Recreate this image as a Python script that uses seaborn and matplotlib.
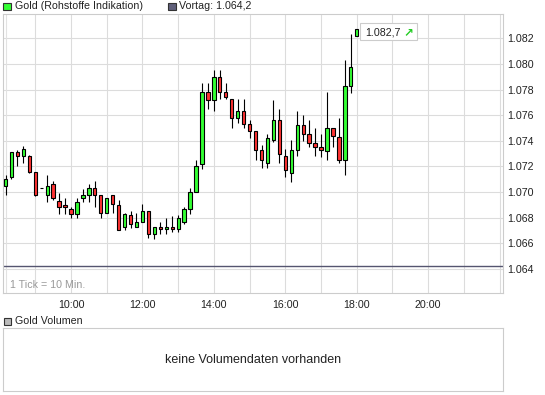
import numpy as np
import pandas as pd
import matplotlib
matplotlib.use("Agg")
import matplotlib.pyplot as plt
from matplotlib.patches import Rectangle
from matplotlib.lines import Line2D
import seaborn as sns

# ---------------- data ----------------
times = pd.date_range("2010-01-01 08:10", "2010-01-01 18:00", freq="10min")
opens = [1070.5, 1071.2, 1073.1, 1072.8, 1072.8, 1071.6, 1070.3, 1069.8, 1070.6, 1069.3,
         1069.0, 1068.7, 1068.3, 1069.5, 1069.8, 1070.3, 1069.8, 1068.4, 1069.8, 1069.0,
         1067.3, 1068.2, 1067.3, 1067.7, 1068.5, 1066.7, 1067.3, 1067.1, 1067.3, 1067.1,
         1067.7, 1068.7, 1070.0, 1072.2, 1077.8, 1077.2, 1079.0, 1077.8, 1077.3, 1075.8,
         1076.3, 1075.3, 1074.8, 1073.3, 1072.3, 1074.1, 1075.6, 1072.8, 1071.5, 1073.3,
         1075.2, 1074.5, 1073.8, 1073.5, 1073.2, 1075.0, 1074.3, 1072.5, 1078.3, 1082.2]
highs = [1071.3, 1073.1, 1073.3, 1073.6, 1072.9, 1071.6, 1070.3, 1071.3, 1070.9, 1069.9,
         1069.5, 1068.8, 1069.5, 1070.2, 1070.6, 1070.9, 1069.8, 1069.5, 1069.8, 1069.4,
         1068.4, 1068.5, 1068.4, 1069.1, 1068.5, 1067.3, 1067.7, 1068.0, 1068.1, 1068.2,
         1068.8, 1070.3, 1072.5, 1078.5, 1078.5, 1079.5, 1079.5, 1078.5, 1077.3, 1077.3,
         1077.3, 1075.6, 1074.8, 1073.7, 1074.5, 1077.2, 1076.5, 1073.4, 1074.1, 1076.3,
         1076.0, 1075.6, 1075.0, 1074.5, 1077.8, 1075.0, 1075.8, 1080.3, 1082.3, 1082.7]
lows = [1069.8, 1071.0, 1072.0, 1072.3, 1071.5, 1069.7, 1070.3, 1069.2, 1069.4, 1068.3,
        1068.3, 1068.0, 1068.0, 1069.2, 1069.2, 1068.8, 1068.0, 1068.4, 1068.4, 1067.0,
        1067.0, 1067.2, 1067.3, 1067.7, 1066.4, 1066.3, 1066.7, 1066.7, 1066.9, 1066.9,
        1067.5, 1068.3, 1070.0, 1071.8, 1076.5, 1076.3, 1077.3, 1077.3, 1075.0, 1075.4,
        1075.0, 1074.2, 1072.5, 1071.9, 1071.9, 1073.9, 1072.3, 1071.2, 1070.8, 1072.8,
        1074.0, 1073.5, 1072.8, 1072.7, 1072.5, 1073.5, 1072.3, 1071.3, 1077.7, 1082.2]
closes = [1071.0, 1073.1, 1072.8, 1073.4, 1071.6, 1069.8, 1070.3, 1070.5, 1069.5, 1068.8,
          1068.8, 1068.3, 1069.2, 1069.8, 1070.3, 1069.8, 1068.4, 1069.5, 1069.1, 1067.0,
          1068.3, 1067.5, 1067.7, 1068.5, 1066.7, 1067.3, 1067.1, 1067.3, 1067.1, 1068.0,
          1068.7, 1070.0, 1072.0, 1077.8, 1077.2, 1079.0, 1077.8, 1077.4, 1075.8, 1076.3,
          1075.3, 1074.8, 1073.3, 1072.5, 1074.2, 1075.6, 1073.0, 1071.7, 1073.3, 1075.2,
          1074.5, 1073.8, 1073.5, 1073.3, 1075.0, 1074.4, 1072.5, 1078.3, 1079.8, 1082.7]
prev_close = 1064.2
last_price = 1082.7
hour_grid = list(range(9, 23))
hour_labels = [10, 12, 14, 16, 18, 20]
y_ticks = [1064, 1066, 1068, 1070, 1072, 1074, 1076, 1078, 1080, 1082]

df = pd.DataFrame({"time": times, "open": opens, "high": highs,
                   "low": lows, "close": closes})
df["hour"] = df["time"].dt.hour + df["time"].dt.minute / 60.0


def de_num(v, dec):
    s = f"{v:,.{dec}f}"
    return s.replace(",", "X").replace(".", ",").replace("X", ".")


# ---------------- style ----------------
sns.set_theme(style="white")
plt.rcParams["font.family"] = ["Liberation Sans", "DejaVu Sans"]
plt.rcParams["font.size"] = 7.7

W, H = 545, 395
fig = plt.figure(figsize=(W / 100, H / 100), dpi=100)
fig.patch.set_facecolor("white")


def fx(x):
    return x / W


def fy(y):
    return 1 - y / H


GREEN = "#33ff33"
RED = "#ff3333"
GRID = "#dcdcdc"
FRAME = "#cccccc"
TXT = "#222222"

# ---------------- main price axes ----------------
ax = fig.add_axes([fx(3), fy(293), fx(503) - fx(3), fy(14) - fy(293)])
ax.set_facecolor("white")
ax.set_xlim(8.0963, 22.094)
ax.set_ylim(1062.12, 1083.90)

ax.set_xticks(hour_grid)
ax.set_xticklabels([f"{h}:00" if h in hour_labels else "" for h in hour_grid],
                   color=TXT, fontsize=7.7)
ax.set_yticks(y_ticks)
ax.set_yticklabels([de_num(v, 0) for v in y_ticks], color=TXT, fontsize=7.7)
ax.yaxis.tick_right()
ax.tick_params(axis="both", length=0)
ax.tick_params(axis="x", pad=5)
ax.tick_params(axis="y", pad=3)
ax.grid(True, color=GRID, lw=0.8)
ax.set_axisbelow(True)
for s in ax.spines.values():
    s.set_color(FRAME)
    s.set_linewidth(0.8)

# inner line at left edge (double frame look), behind the candles
ax.add_line(Line2D([2.5 / 500, 2.5 / 500], [0, 1], transform=ax.transAxes,
                   color="#e2e2e2", lw=0.8, zorder=1))

# previous close line
ax.axhline(prev_close, color="#555570", lw=1.0, zorder=2)

# candles
body_w = 3.3 / 35.72
ax.vlines(df["hour"], df["low"], df["high"], color="black", lw=0.8, zorder=3)
bottoms = np.minimum(df["open"], df["close"])
heights = np.abs(df["close"] - df["open"])
colors = [GREEN if c >= o else RED for o, c in zip(df["open"], df["close"])]
ax.bar(df["hour"], heights, bottom=bottoms, width=body_w, color=colors,
       edgecolor="black", linewidth=0.8, zorder=4)

ax.text(0.014, 0.027, "1 Tick = 10 Min.", transform=ax.transAxes,
        color="#999999", fontsize=7.7, va="center", ha="left")

# last price box
fig.canvas.draw()
px, py = ax.transData.transform((df["hour"].iloc[-1], last_price))
bx0, bx1 = px + 3.5, px + 60
by_top, by_bot = py + 6, py - 10.7
fig.add_artist(Rectangle((bx0 / W, by_bot / H), (bx1 - bx0) / W, (by_top - by_bot) / H,
                         transform=fig.transFigure, facecolor="white",
                         edgecolor=FRAME, lw=0.8, zorder=10))
fig.text((px + 8.5) / W, (py - 2.8) / H, de_num(last_price, 1), color=TXT,
         fontsize=7.7, va="center", ha="left", zorder=11)
fig.text((px + 47) / W, (py - 2.8) / H, "\u2197", color="#22cc22", fontsize=8.5,
         fontweight="bold", va="center", ha="left", family=["DejaVu Sans"], zorder=11)

# ---------------- top legend ----------------
fig.add_artist(Rectangle((fx(3), fy(10)), 7.5 / W, 7.5 / H, transform=fig.transFigure,
                         facecolor=GREEN, edgecolor="#333333", lw=0.8))
fig.text(fx(15), fy(6.3), "Gold (Rohstoffe Indikation)", color=TXT, fontsize=7.7,
         va="center", ha="left")
fig.add_artist(Rectangle((fx(168), fy(10)), 7.5 / W, 7.5 / H, transform=fig.transFigure,
                         facecolor="#5f5f7a", edgecolor="#333333", lw=0.8))
fig.text(fx(179), fy(6.3), "Vortag: " + de_num(prev_close, 1), color=TXT,
         fontsize=7.7, va="center", ha="left")

# ---------------- volume panel ----------------
fig.add_artist(Rectangle((fx(3.5), fy(325)), 7 / W, 7 / H, transform=fig.transFigure,
                         facecolor="#bbbbbb", edgecolor="#333333", lw=0.8))
fig.text(fx(15), fy(320.6), "Gold Volumen", color=TXT, fontsize=7.7,
         va="center", ha="left")
axv = fig.add_axes([fx(3), fy(391), fx(503) - fx(3), fy(327.5) - fy(391)])
axv.set_facecolor("white")
axv.set_xticks([])
axv.set_yticks([])
for s in axv.spines.values():
    s.set_color(FRAME)
    s.set_linewidth(0.8)
axv.text(0.5, 0.49, "keine Volumendaten vorhanden", transform=axv.transAxes,
         ha="center", va="center", color=TXT, fontsize=9.0)

fig.savefig("out.png", dpi=100)
